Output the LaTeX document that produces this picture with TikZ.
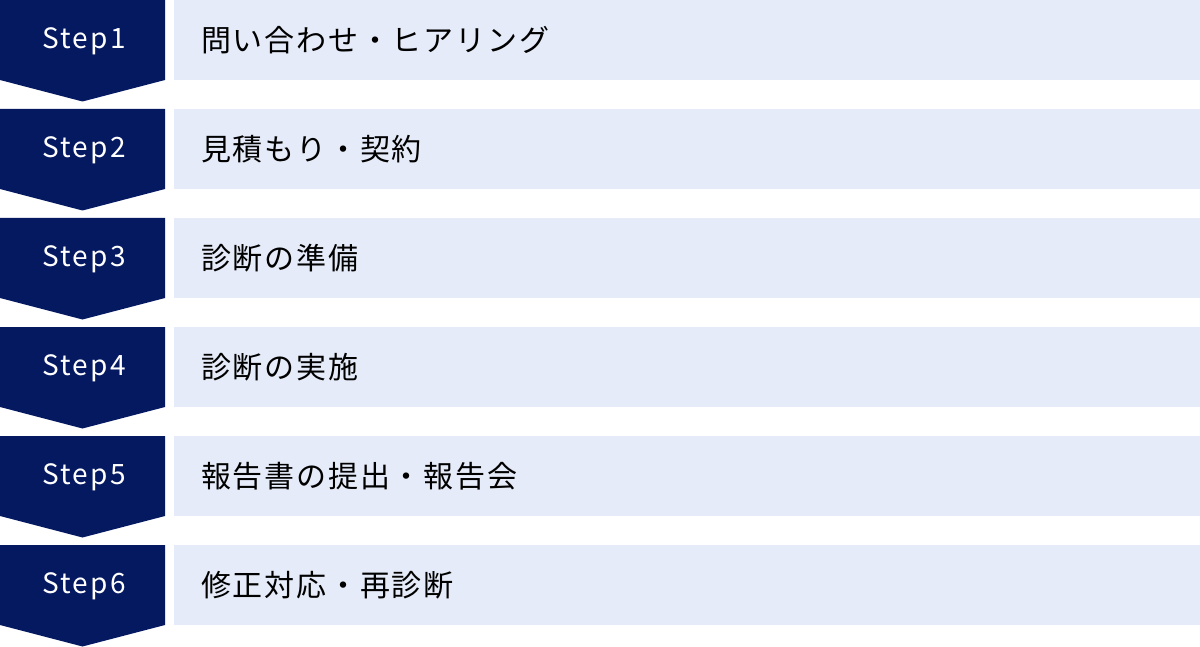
\documentclass[tikz,border=0pt]{standalone}
\usepackage{fontspec}
\setmainfont{Noto Sans}
\newfontfamily\cjkspaced[LetterSpace=6]{Noto Sans CJK JP}
\newfontfamily\stepfont[LetterSpace=8]{Noto Sans CJK JP}
\definecolor{navy}{HTML}{051961}
\definecolor{pale}{HTML}{E5EBF8}
\tikzset{
  stepshape/.style={fill=navy, draw=none},
  bandbox/.style={fill=pale, draw=none},
  steplabel/.style={text=white, font=\stepfont\fontsize{28}{32}\selectfont, anchor=center, inner sep=0},
  bandlabel/.style={text=black, font=\cjkspaced\fontsize{30}{34}\selectfont, anchor=west, inner sep=0},
}
\begin{document}
\begin{tikzpicture}[x=1pt,y=-1pt]
\useasboundingbox (0,0) rectangle (1200,647);
\foreach \i/\t in {1/問い合わせ・ヒアリング,2/見積もり・契約,3/診断の準備,4/診断の実施,5/報告書の提出・報告会,6/修正対応・再診断}{
  \pgfmathsetmacro{\yy}{(\i-1)*109}
  \fill[stepshape] (0,\yy) -- (165,\yy) -- (165,\yy+80) -- (82.5,\yy+101.5) -- (0,\yy+80) -- cycle;
  \fill[bandbox] (174,\yy) rectangle (1200,\yy+80);
  \node[steplabel] (s\i) at (84,\yy+41) {Step\i};
  \node[bandlabel] (t\i) at (201,\yy+40) {\t};
}
\end{tikzpicture}
\end{document}
